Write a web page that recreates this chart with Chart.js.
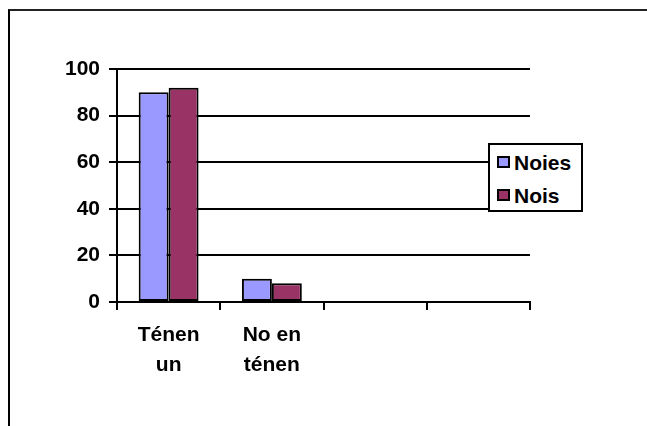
<!DOCTYPE html>
<html>
<head>
<meta charset="utf-8">
<script src="https://cdn.jsdelivr.net/npm/chart.js@4"></script>
<style>
  html, body { margin: 0; padding: 0; background: #fff; }
  #wrap { position: relative; width: 647px; height: 426px; overflow: hidden; }
  #frame {
    position: absolute; left: 8px; top: 9px; right: -10px; bottom: -10px;
    border-left: 2px solid #000; border-top: 2px solid #222;
  }
  #legend {
    position: absolute; left: 488px; top: 143px; width: 91px; height: 65px;
    border: 2px solid #000; background: #fff;
    font: bold 21px "Liberation Sans", Arial, sans-serif; color: #000;
  }
  #legend .item { position: absolute; left: 7px; height: 24px; line-height: 24px; white-space: nowrap; }
  #legend .sw {
    display: inline-block; width: 9px; height: 8px; border: 2px solid #000;
    vertical-align: middle; margin-right: 4px; position: relative; top: -2px;
  }
</style>
</head>
<body>
<div id="wrap">
  <canvas id="chart" width="647" height="426"></canvas>
  <div id="frame"></div>
  <div id="legend"></div>
</div>
<script>
// data
const categories = [["Ténen", "un"], ["No en", "ténen"], "", ""];
const seriesNames = ["Noies", "Nois"];
const noies = [90, 10, null, null];
const nois = [92, 8, null, null];
const yTicks = [0, 20, 40, 60, 80, 100];

const colors = ["#9999FF", "#993366"];
const font = { family: "'Liberation Sans', Arial, sans-serif", size: 21, weight: "bold" };

new Chart(document.getElementById("chart"), {
  type: "bar",
  data: {
    labels: categories,
    datasets: [
      { label: seriesNames[0], data: noies, backgroundColor: colors[0] },
      { label: seriesNames[1], data: nois, backgroundColor: colors[1] }
    ]
  },
  options: {
    responsive: false,
    animation: false,
    layout: { padding: { left: 0, right: 117, top: 69, bottom: 0 } },
    datasets: {
      bar: { borderColor: "#000", borderWidth: 2, borderSkipped: false, barPercentage: 1, categoryPercentage: 0.58 }
    },
    plugins: { legend: { display: false }, tooltip: { enabled: false } },
    scales: {
      x: {
        grid: { offset: true, drawOnChartArea: false, drawTicks: true, tickLength: 8, color: "#000", lineWidth: 2 },
        border: { color: "#000", width: 2 },
        ticks: { color: "#000", font: { ...font, lineHeight: 1.4 }, padding: 11, maxRotation: 0, autoSkip: false },
        afterFit: s => { s.height = 124; }
      },
      y: {
        min: 0, max: 100,
        afterBuildTicks: s => { s.ticks = yTicks.map(v => ({ value: v })); },
        grid: { color: "#000", lineWidth: 2, tickLength: 8 },
        border: { color: "#000", width: 2 },
        ticks: { color: "#000", font: font, padding: 9 },
        afterFit: s => { s.width = 117; }
      }
    }
  }
});

// legend box, built from the series names and colours
const legend = document.getElementById("legend");
seriesNames.forEach((name, i) => {
  const item = document.createElement("div");
  item.className = "item";
  item.style.top = (6 + i * 33) + "px";
  item.innerHTML = '<span class="sw" style="background:' + colors[i] + '"></span>' + name;
  legend.appendChild(item);
});
</script>
</body>
</html>
